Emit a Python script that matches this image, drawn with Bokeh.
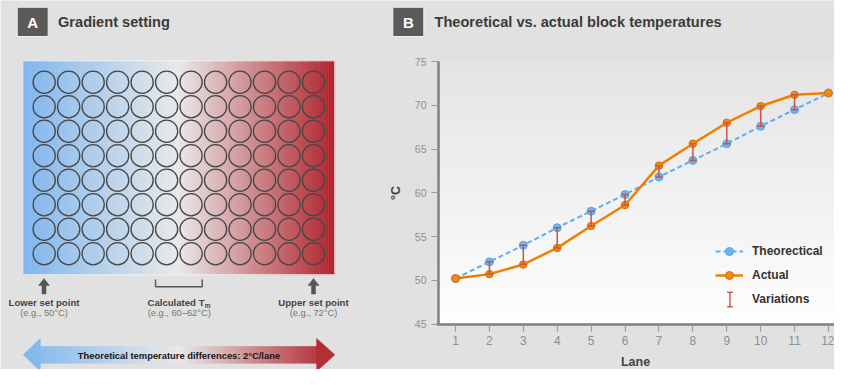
from bokeh.plotting import figure
from bokeh.models import (Range1d, ColumnDataSource, Whisker, TeeHead, Legend, LegendItem,
                          FixedTicker, LinearAxis)
from bokeh.embed import file_html
from bokeh.resources import INLINE
from bokeh.core.properties import value

# ---------------- data ----------------
lanes = [1, 2, 3, 4, 5, 6, 7, 8, 9, 10, 11, 12]
theoretical = [50.2, 52.1, 54.0, 56.0, 57.9, 59.8, 61.8, 63.7, 65.6, 67.6, 69.5, 71.4]
actual = [50.2, 50.7, 51.8, 53.7, 56.2, 58.6, 63.1, 65.6, 68.0, 69.9, 71.2, 71.4]
y_ticks = [45, 50, 55, 60, 65, 70, 75]
legend_labels = ["Theorectical", "Actual", "Variations"]
plate_columns = 12
plate_rows = 8
set_point_labels = ["Lower set point", "Upper set point"]
set_point_examples = ["(e.g., 50°C)", "(e.g., 72°C)"]
tm_example = "(e.g., 60–62°C)"
arrow_text = "Theoretical temperature differences: 2°C/lane"
title_a = "Gradient setting"
title_b = "Theoretical vs. actual block temperatures"

# ---------------- style / layout ----------------
W, H = 834, 369
BG = "#e1e1e1"
FONT = "Liberation Sans"
BLUE = "#5fadee"
ORANGE = "#f07f00"
VAR = "#c8554a"

# chart geometry (page pixels)
LANE1_X, LANE12_X = 455.0, 828.0
T45_Y, T75_Y = 323.5, 61.0
PX_LANE = (LANE12_X - LANE1_X) / 11.0
PX_DEG = (T45_Y - T75_Y) / 30.0


def lerp(c1, c2, t):
    return tuple(int(round(a + (b - a) * t)) for a, b in zip(c1, c2))


def grad(t):
    stops = [(0.0, (126, 182, 238)), (0.5, (233, 233, 233)), (1.0, (176, 34, 42))]
    for (t0, c0), (t1, c1) in zip(stops[:-1], stops[1:]):
        if t <= t1:
            return "#%02x%02x%02x" % lerp(c0, c1, (t - t0) / (t1 - t0))
    return "#%02x%02x%02x" % stops[-1][1]


p = figure(width=W, height=H, x_range=Range1d(0, W), y_range=Range1d(H, 0),
           output_backend="svg", toolbar_location=None, x_axis_type=None, y_axis_type=None,
           title=None, min_border=0, outline_line_color=None, background_fill_color=BG,
           border_fill_color=BG)
p.grid.visible = False
p.extra_x_ranges = {"lane": Range1d(1 - LANE1_X / PX_LANE, 1 + (W - LANE1_X) / PX_LANE)}
p.extra_y_ranges = {"temp": Range1d(45 - (H - T45_Y) / PX_DEG, 75 + T75_Y / PX_DEG)}


def txt(x, y, t, size, color, bold=False, align="left"):
    p.text(x=x, y=y, text=t, text_font=value(FONT),
           text_font_style="bold" if bold else "normal", text_font_size=size,
           text_color=color, text_align=align, text_baseline="middle")


# ================= panel A (illustration) =================
p.quad(left=[16.7, 392.3], right=[47.7, 423.3], top=[6.7, 6.7], bottom=[36, 36],
       fill_color="#5a5a5a", line_color="#f2f2f2", line_width=1)
txt([32.2, 407.8], [21.5, 21.5], ["A", "B"], "15px", "white", True, "center")
txt([57.5], [21.5], [title_a], "14.6px", "#3b3b3b", True)
txt([434.0], [21.5], [title_b], "14.6px", "#3b3b3b", True)

gx0, gx1, gy0, gy1 = 22.3, 334.3, 60.3, 274.3
N = 104
xs = [gx0 + (gx1 - gx0) * k / N for k in range(N + 1)]
cols = [grad((k + 0.5) / N) for k in range(N)]
p.quad(left=xs[:-1], right=xs[1:], top=gy0, bottom=gy1, fill_color=cols,
       line_color=cols, line_width=0.6)
p.quad(left=[gx0], right=[gx1], top=[gy0], bottom=[gy1], fill_alpha=0,
       line_color="#f4f4f4", line_width=1)

cx = [43.7 + 24.48 * i for j in range(plate_rows) for i in range(plate_columns)]
cy = [81.7 + 24.5 * j for j in range(plate_rows) for i in range(plate_columns)]
p.scatter(x=cx, y=cy, size=22.2, fill_alpha=0, line_color="#474747", line_width=1.3)

arrow_x = [43.5, 313.0]
p.patches(xs=[[a, a + 5.5, a + 2, a + 2, a - 2, a - 2, a - 5.5] for a in arrow_x],
          ys=[[278, 285, 285, 293.5, 293.5, 285, 285] for a in arrow_x],
          fill_color="#555555", line_color="#555555", line_width=0.5)
p.line(x=[155, 155, 201.7, 201.7], y=[279, 286.3, 286.3, 279], line_color="#555555",
       line_width=1.4)

txt(arrow_x, [301.7, 301.7], set_point_labels, "9.6px", "#444444", True, "center")
txt(arrow_x, [312.8, 312.8], set_point_examples, "9.3px", "#777777", False, "center")
txt([204], [301.7], ["Calculated T"], "9.6px", "#444444", True, "right")
txt([204.3], [304.6], ["m"], "6.5px", "#444444", True, "left")
txt([178.7], [312.8], [tm_example], "9.3px", "#777777", False, "center")

ax0, ax1 = 39.3, 316.7
M = 92
axs = [ax0 + (ax1 - ax0) * k / M for k in range(M + 1)]
acols = [grad(((axs[k] + axs[k + 1]) / 2 - gx0) / (gx1 - gx0)) for k in range(M)]
p.quad(left=axs[:-1], right=axs[1:], top=346, bottom=362.7, fill_color=acols,
       line_color=acols, line_width=0.6)
p.patches(xs=[[22.7, ax0 + 0.5, ax0 + 0.5], [334.3, ax1 - 0.5, ax1 - 0.5]],
          ys=[[354.3, 338, 370.7], [354.3, 338, 370.7]],
          fill_color=[grad(0.03), grad(0.97)], line_color=[grad(0.03), grad(0.97)],
          line_width=0.6)
txt([178.5], [354.6], [arrow_text], "9.4px", "#161616", True, "center")

# ================= panel B (chart) =================
R = dict(x_range_name="lane", y_range_name="temp")
PLOT_RIGHT_LANE = 12.3

# plot-area gradient background
NB = 50
bb = [45 + 30 * k / NB for k in range(NB + 1)]
bcols = ["#%02x%02x%02x" % lerp((254, 254, 254), (228, 228, 228), (k + 0.5) / NB)
         for k in range(NB)]
p.quad(left=0.5, right=PLOT_RIGHT_LANE, bottom=bb[:-1], top=bb[1:], fill_color=bcols,
       line_color=bcols, line_width=0.6, **R)

xax = LinearAxis(fixed_location=45, bounds=(0.45, 12.6), ticker=FixedTicker(ticks=lanes),
                 axis_label="Lane", **R)
yax = LinearAxis(fixed_location=0.5, bounds=(45, 75), ticker=FixedTicker(ticks=y_ticks),
                 axis_label="°C", **R)
for ax in (xax, yax):
    ax.axis_line_color = "#808080"
    ax.axis_line_width = 2.5
    ax.major_tick_line_color = "#9a9a9a"
    ax.major_tick_line_width = 1.2
    ax.major_tick_out = 7
    ax.major_tick_in = 0
    ax.minor_tick_line_color = None
    ax.major_label_text_color = "#8f8f8f"
    ax.major_label_text_font = FONT
    ax.major_label_standoff = 5
    ax.axis_label_text_font = FONT
    ax.axis_label_text_font_style = "bold"
    ax.axis_label_text_color = "#444444"
    ax.axis_label_text_font_size = "12.5px"
xax.major_label_text_font_size = "12px"
yax.major_label_text_font_size = "10.5px"
xax.axis_label_standoff = 6
yax.axis_label_standoff = 9
p.add_layout(xax, "below")
p.add_layout(yax, "left")

src = ColumnDataSource(dict(lane=lanes, theo=theoretical, act=actual))
tl = p.line("lane", "theo", source=src, line_color=BLUE, line_width=2, line_dash="5 3", **R)
tp = p.scatter("lane", "theo", source=src, size=8, fill_color="#6db5f0",
               line_color="#5aa5e5", **R)
al = p.line("lane", "act", source=src, line_color=ORANGE, line_width=2.5, **R)
ap = p.scatter("lane", "act", source=src, size=7.5, fill_color="#f28a12",
               line_color="#d87000", **R)

vb, vl, vu = [], [], []
for l, t, a in zip(lanes, theoretical, actual):
    if abs(t - a) > 0.05:
        vb.append(l)
        vl.append(min(t, a))
        vu.append(max(t, a))
vsrc = ColumnDataSource(dict(base=vb, lower=vl, upper=vu))
p.add_layout(Whisker(source=vsrc, base="base", lower="lower", upper="upper",
                     dimension="height", line_color=VAR, line_width=1.5, level="annotation",
                     upper_head=TeeHead(size=7, line_color=VAR, line_width=1.5),
                     lower_head=TeeHead(size=7, line_color=VAR, line_width=1.5), **R))

# legend
LEG_LEFT, LEG_BOTTOM, GW, GH, SP, PAD = 705, 319, 28, 20, 4, 10
dummy = p.scatter(x=[], y=[], fill_alpha=0, line_alpha=0)
legend = Legend(items=[LegendItem(label=legend_labels[0], renderers=[tl, tp]),
                       LegendItem(label=legend_labels[1], renderers=[al, ap]),
                       LegendItem(label=legend_labels[2], renderers=[dummy])],
                location=(LEG_LEFT, H - LEG_BOTTOM), glyph_width=GW, glyph_height=GH,
                label_height=GH, spacing=SP, padding=PAD, label_standoff=9,
                label_text_font=FONT, label_text_font_style="bold",
                label_text_font_size="12px", label_text_color="#333333",
                background_fill_alpha=0, border_line_alpha=0)
p.add_layout(legend)

# I-beam icon for the "Variations" legend entry
ib_x = LEG_LEFT + PAD + GW / 2 + 0.5
ib_y = LEG_BOTTOM - PAD - GH / 2
p.segment(x0=[ib_x, ib_x - 2.9, ib_x - 2.9], x1=[ib_x, ib_x + 2.9, ib_x + 2.9],
          y0=[ib_y - 7.2, ib_y - 7.2, ib_y + 7.2], y1=[ib_y + 7.2, ib_y - 7.2, ib_y + 7.2],
          line_color=VAR, line_width=1.4)

open("out.html", "w").write(file_html(p, INLINE))
